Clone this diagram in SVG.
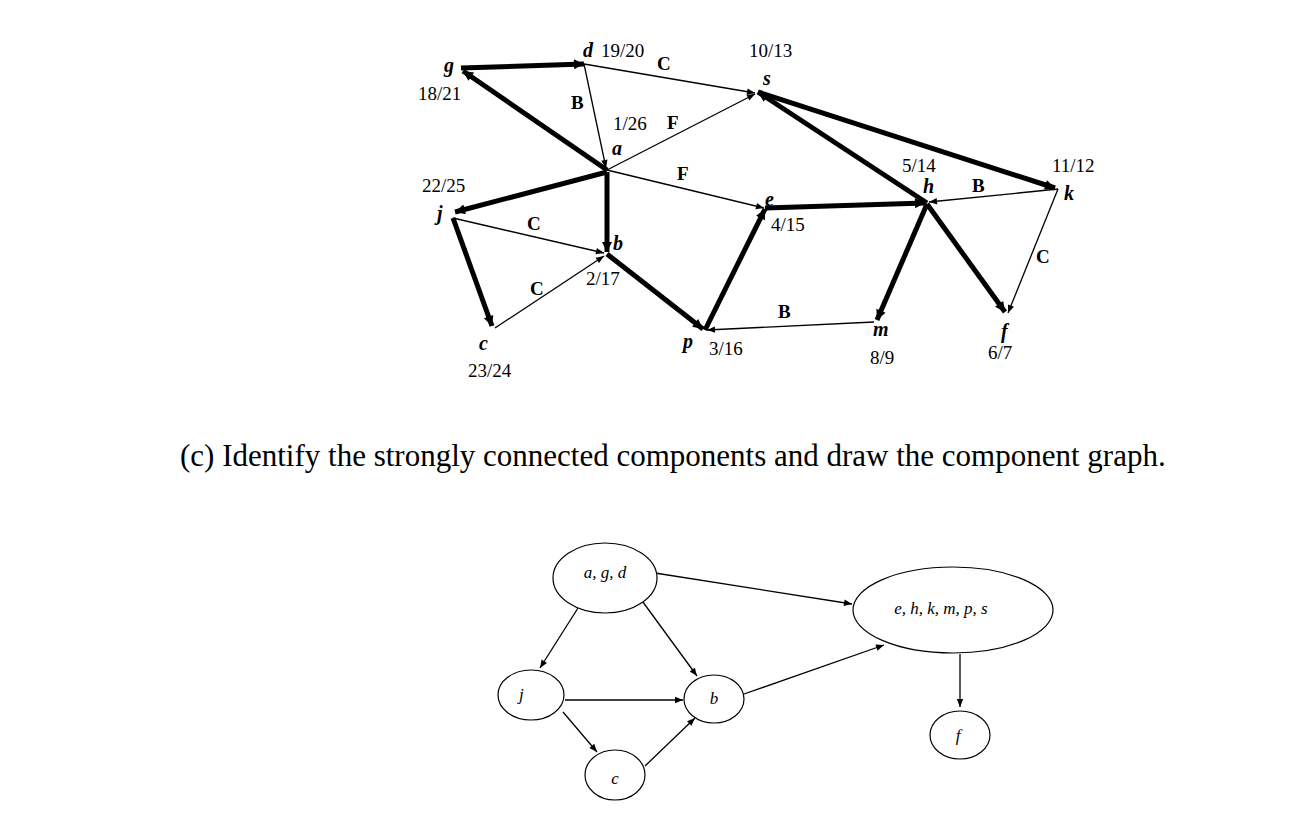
<svg xmlns="http://www.w3.org/2000/svg" width="1290" height="834" viewBox="0 0 1290 834">
<style>
text{font-family:"Liberation Serif",serif;fill:#000}
.n{font-size:19px}
.v{font-size:20px;font-style:italic;font-weight:bold}
.l{font-size:19px;font-weight:bold}
.s{font-size:17px;font-style:italic}
.thin{stroke:#000;stroke-width:1.3;fill:none;marker-end:url(#a1)}
.thick{stroke:#000;stroke-width:5;fill:none;marker-end:url(#a2)}
.c2{stroke:#000;stroke-width:1.3;fill:none;marker-end:url(#a1)}
ellipse{fill:#fff;stroke:#000;stroke-width:1.2}
</style>
<defs>
<marker id="a1" viewBox="0 0 10 10" refX="10" refY="5" markerWidth="12" markerHeight="8" markerUnits="userSpaceOnUse" orient="auto"><path d="M0,1L10,5L0,9z"/></marker>
<marker id="a2" viewBox="0 0 10 10" refX="10" refY="5" markerWidth="22" markerHeight="10" markerUnits="userSpaceOnUse" orient="auto"><path d="M0,0L10,5L0,10z"/></marker>
</defs>
<rect width="1290" height="834" fill="#fff"/>
<g id="connectors">
<line class="thick" x1="461" y1="68" x2="584" y2="64"/>
<line class="thick" x1="607" y1="170" x2="463" y2="71"/>
<line class="thin" x1="584" y1="64" x2="606" y2="168"/>
<line class="thin" x1="584" y1="64" x2="755" y2="93"/>
<line class="thin" x1="607" y1="170" x2="755" y2="94"/>
<line class="thin" x1="607" y1="170" x2="764" y2="208"/>
<line class="thick" x1="607" y1="172" x2="455" y2="212"/>
<line class="thick" x1="607" y1="172" x2="607" y2="252"/>
<line class="thin" x1="453" y1="218" x2="604" y2="253"/>
<line class="thick" x1="453" y1="218" x2="492" y2="326"/>
<line class="thin" x1="495" y1="328" x2="604" y2="256"/>
<line class="thick" x1="607" y1="254" x2="703" y2="329"/>
<line class="thick" x1="705" y1="330" x2="765" y2="209"/>
<line class="thick" x1="765" y1="208" x2="925" y2="203"/>
<line class="thick" x1="927" y1="203" x2="758" y2="92"/>
<line class="thick" x1="758" y1="92" x2="1055" y2="188"/>
<line class="thin" x1="1058" y1="189" x2="929" y2="202"/>
<line class="thick" x1="927" y1="204" x2="877" y2="320"/>
<line class="thick" x1="927" y1="204" x2="1005" y2="312"/>
<line class="thin" x1="1058" y1="189" x2="1008" y2="313"/>
<line class="thin" x1="874" y1="322" x2="707" y2="330"/>
<line class="c2" x1="655" y1="573" x2="852" y2="604"/>
<line class="c2" x1="578" y1="608" x2="540" y2="668"/>
<line class="c2" x1="640" y1="598" x2="697" y2="676"/>
<line class="c2" x1="565" y1="700" x2="683" y2="700"/>
<line class="c2" x1="563" y1="712" x2="597" y2="752"/>
<line class="c2" x1="645" y1="766" x2="695" y2="718"/>
<line class="c2" x1="744" y1="694" x2="884" y2="645"/>
<line class="c2" x1="960" y1="654" x2="960" y2="707"/>
</g>
<g id="edge-labels">
<text class="l" x="657" y="70">C</text>
<text class="l" x="571" y="109">B</text>
<text class="l" x="667" y="129">F</text>
<text class="l" x="677" y="180">F</text>
<text class="l" x="527" y="230">C</text>
<text class="l" x="530" y="295">C</text>
<text class="l" x="778" y="318">B</text>
<text class="l" x="972" y="192">B</text>
<text class="l" x="1036" y="263">C</text>
</g>
<g id="g"><text class="v" x="444" y="72">g</text><text class="n" x="418" y="100">18/21</text></g>
<g id="d"><text class="v" x="583" y="57">d</text><text class="n" x="601" y="57">19/20</text></g>
<g id="s"><text class="v" x="763" y="85">s</text><text class="n" x="749" y="57">10/13</text></g>
<g id="a"><text class="v" x="612" y="155">a</text><text class="n" x="613" y="130">1/26</text></g>
<g id="j"><text class="v" x="437" y="220">j</text><text class="n" x="422" y="192">22/25</text></g>
<g id="b"><text class="v" x="613" y="250">b</text><text class="n" x="586" y="285">2/17</text></g>
<g id="c"><text class="v" x="479" y="350">c</text><text class="n" x="468" y="377">23/24</text></g>
<g id="p"><text class="v" x="683" y="348">p</text><text class="n" x="709" y="355">3/16</text></g>
<g id="e"><text class="v" x="765" y="206">e</text><text class="n" x="771" y="231">4/15</text></g>
<g id="h"><text class="v" x="923" y="193">h</text><text class="n" x="902" y="172">5/14</text></g>
<g id="k"><text class="v" x="1064" y="200">k</text><text class="n" x="1052" y="172">11/12</text></g>
<g id="m"><text class="v" x="873" y="336">m</text><text class="n" x="870" y="364">8/9</text></g>
<g id="f"><text class="v" x="1001" y="338">f</text><text class="n" x="988" y="359">6/7</text></g>
<text x="180" y="466" style="font-size:31px">(c)  Identify the strongly connected components and draw the component graph.</text>
<g id="agd"><ellipse cx="605" cy="578" rx="52" ry="35"/><text class="s" x="605" y="578" text-anchor="middle">a, g, d</text></g>
<g id="ehkmps"><ellipse cx="953" cy="610" rx="100" ry="43"/><text class="s" x="941" y="614" text-anchor="middle">e,  h, k, m, p, s</text></g>
<g id="jn"><ellipse cx="531" cy="695" rx="33" ry="25"/><text class="s" x="519" y="700">j</text></g>
<g id="bn"><ellipse cx="714" cy="699" rx="30" ry="24"/><text class="s" x="714" y="704" text-anchor="middle">b</text></g>
<g id="cn"><ellipse cx="615" cy="775" rx="30" ry="25"/><text class="s" x="615" y="784" text-anchor="middle">c</text></g>
<g id="fn"><ellipse cx="960" cy="735" rx="30" ry="24"/><text class="s" x="958" y="741" text-anchor="middle">f</text></g>
</svg>
